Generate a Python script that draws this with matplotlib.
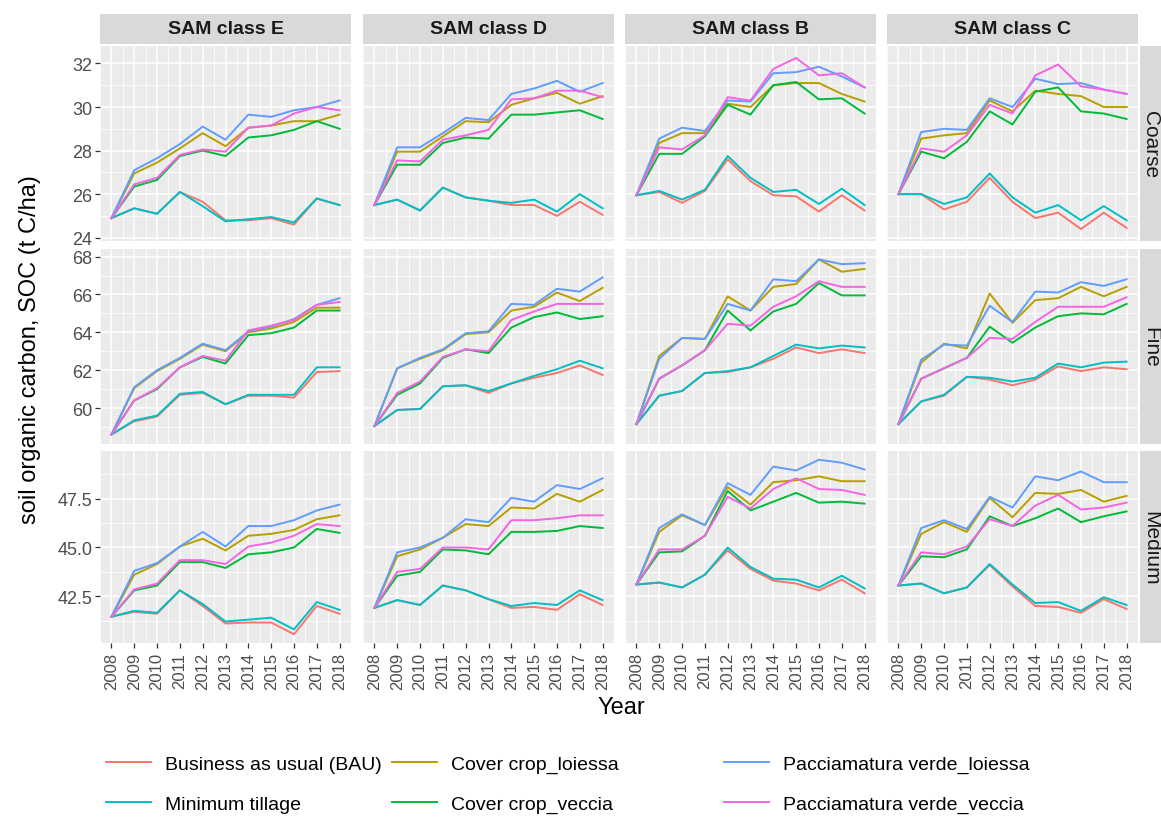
import matplotlib
matplotlib.use("Agg")
import matplotlib.pyplot as plt
from matplotlib.lines import Line2D
import numpy as np

plt.rcParams['font.family'] = ['Liberation Sans', 'DejaVu Sans']

years = list(range(2008, 2019))
classes = ["E", "D", "B", "C"]
textures = ["Coarse", "Fine", "Medium"]

treatments = ["bau", "cc_lo", "cc_ve", "mt", "pv_lo", "pv_ve"]
labels = {
    "bau": "Business as usual (BAU)",
    "cc_lo": "Cover crop_loiessa",
    "cc_ve": "Cover crop_veccia",
    "mt": "Minimum tillage",
    "pv_lo": "Pacciamatura verde_loiessa",
    "pv_ve": "Pacciamatura verde_veccia",
}
colors = {
    "bau": "#F8766D",
    "cc_lo": "#B79F00",
    "cc_ve": "#00BA38",
    "mt": "#00BFC4",
    "pv_lo": "#619CFF",
    "pv_ve": "#F564E3",
}

# SOC (t C/ha) per soil texture and SAM class
coarse_E = {
    "bau":   [24.9, 25.35, 25.1, 26.1, 25.65, 24.8, 24.8, 24.9, 24.6, 25.8, 25.5],
    "mt":    [24.9, 25.35, 25.1, 26.1, 25.45, 24.75, 24.85, 24.95, 24.7, 25.8, 25.5],
    "cc_lo": [24.9, 26.95, 27.45, 28.1, 28.8, 28.2, 29.05, 29.15, 29.35, 29.35, 29.65],
    "cc_ve": [24.9, 26.35, 26.65, 27.75, 28.0, 27.75, 28.6, 28.7, 28.95, 29.35, 29.0],
    "pv_lo": [24.9, 27.1, 27.65, 28.3, 29.1, 28.5, 29.65, 29.55, 29.85, 30.0, 30.3],
    "pv_ve": [24.9, 26.45, 26.75, 27.8, 28.05, 27.95, 29.05, 29.15, 29.7, 30.0, 29.85],
}
coarse_D = {
    "bau":   [25.5, 25.75, 25.25, 26.3, 25.85, 25.7, 25.5, 25.5, 25.0, 25.65, 25.05],
    "mt":    [25.5, 25.75, 25.25, 26.3, 25.85, 25.7, 25.6, 25.75, 25.2, 26.0, 25.35],
    "cc_lo": [25.5, 27.95, 27.95, 28.65, 29.35, 29.3, 30.1, 30.4, 30.65, 30.15, 30.5],
    "cc_ve": [25.5, 27.35, 27.35, 28.35, 28.6, 28.55, 29.65, 29.65, 29.75, 29.85, 29.45],
    "pv_lo": [25.5, 28.15, 28.15, 28.8, 29.5, 29.4, 30.6, 30.85, 31.2, 30.7, 31.1],
    "pv_ve": [25.5, 27.55, 27.5, 28.5, 28.7, 28.95, 30.35, 30.4, 30.75, 30.75, 30.45],
}
coarse_B = {
    "bau":   [25.95, 26.1, 25.6, 26.15, 27.6, 26.6, 25.95, 25.9, 25.2, 25.95, 25.25],
    "mt":    [25.95, 26.15, 25.75, 26.2, 27.75, 26.75, 26.1, 26.2, 25.55, 26.25, 25.5],
    "cc_lo": [25.95, 28.35, 28.8, 28.8, 30.15, 30.0, 31.0, 31.1, 31.1, 30.6, 30.25],
    "cc_ve": [25.95, 27.85, 27.85, 28.65, 30.1, 29.65, 31.0, 31.15, 30.35, 30.4, 29.7],
    "pv_lo": [25.95, 28.55, 29.05, 28.9, 30.3, 30.25, 31.55, 31.6, 31.85, 31.4, 30.9],
    "pv_ve": [25.95, 28.15, 28.05, 28.7, 30.45, 30.3, 31.75, 32.25, 31.45, 31.55, 30.9],
}
coarse_C = {
    "bau":   [26.0, 26.0, 25.3, 25.65, 26.75, 25.65, 24.9, 25.15, 24.4, 25.15, 24.45],
    "mt":    [26.0, 26.0, 25.55, 25.85, 26.95, 25.85, 25.15, 25.5, 24.8, 25.45, 24.8],
    "cc_lo": [26.0, 28.55, 28.7, 28.8, 30.3, 29.8, 30.75, 30.6, 30.5, 30.0, 30.0],
    "cc_ve": [26.0, 27.95, 27.65, 28.4, 29.8, 29.2, 30.7, 30.9, 29.8, 29.7, 29.45],
    "pv_lo": [26.0, 28.85, 29.0, 28.95, 30.4, 30.0, 31.3, 31.05, 31.1, 30.8, 30.6],
    "pv_ve": [26.0, 28.1, 27.95, 28.7, 30.1, 29.7, 31.45, 31.95, 30.95, 30.8, 30.6],
}

fine_E = {
    "bau":   [58.6, 59.3, 59.55, 60.7, 60.8, 60.2, 60.65, 60.65, 60.55, 61.9, 61.95],
    "mt":    [58.6, 59.35, 59.6, 60.75, 60.85, 60.2, 60.7, 60.7, 60.7, 62.15, 62.15],
    "cc_lo": [58.6, 61.05, 61.95, 62.6, 63.35, 63.0, 64.0, 64.2, 64.55, 65.3, 65.3],
    "cc_ve": [58.6, 60.4, 61.0, 62.15, 62.7, 62.35, 63.85, 63.95, 64.25, 65.15, 65.15],
    "pv_lo": [58.6, 61.1, 62.0, 62.65, 63.4, 63.05, 64.05, 64.3, 64.7, 65.45, 65.8],
    "pv_ve": [58.6, 60.4, 61.05, 62.15, 62.75, 62.5, 64.1, 64.35, 64.65, 65.45, 65.6],
}
fine_D = {
    "bau":   [59.05, 59.9, 59.95, 61.15, 61.2, 60.8, 61.3, 61.6, 61.85, 62.25, 61.75],
    "mt":    [59.05, 59.9, 59.95, 61.15, 61.2, 60.9, 61.3, 61.7, 62.05, 62.5, 62.1],
    "cc_lo": [59.05, 62.1, 62.6, 63.05, 63.9, 64.0, 65.15, 65.35, 66.1, 65.65, 66.35],
    "cc_ve": [59.05, 60.7, 61.3, 62.65, 63.1, 62.9, 64.25, 64.8, 65.05, 64.7, 64.85],
    "pv_lo": [59.05, 62.1, 62.65, 63.1, 63.95, 64.05, 65.5, 65.45, 66.3, 66.15, 66.9],
    "pv_ve": [59.05, 60.8, 61.4, 62.7, 63.1, 63.0, 64.65, 65.1, 65.5, 65.5, 65.5],
}
fine_B = {
    "bau":   [59.15, 60.65, 60.9, 61.85, 61.9, 62.15, 62.6, 63.2, 62.9, 63.1, 62.9],
    "mt":    [59.15, 60.65, 60.9, 61.85, 61.95, 62.15, 62.75, 63.35, 63.15, 63.3, 63.2],
    "cc_lo": [59.15, 62.75, 63.7, 63.65, 65.9, 65.15, 66.4, 66.55, 67.85, 67.2, 67.35],
    "cc_ve": [59.15, 61.55, 62.25, 63.05, 65.15, 64.1, 65.1, 65.5, 66.6, 65.95, 65.95],
    "pv_lo": [59.15, 62.6, 63.7, 63.65, 65.5, 65.15, 66.8, 66.7, 67.85, 67.6, 67.65],
    "pv_ve": [59.15, 61.55, 62.25, 63.05, 64.45, 64.35, 65.35, 65.9, 66.7, 66.4, 66.4],
}
fine_C = {
    "bau":   [59.15, 60.35, 60.65, 61.65, 61.5, 61.2, 61.5, 62.2, 61.95, 62.15, 62.05],
    "mt":    [59.15, 60.35, 60.7, 61.65, 61.6, 61.4, 61.6, 62.35, 62.15, 62.4, 62.45],
    "cc_lo": [59.15, 62.4, 63.4, 63.15, 66.05, 64.5, 65.7, 65.8, 66.4, 65.9, 66.4],
    "cc_ve": [59.15, 61.55, 62.1, 62.65, 64.3, 63.45, 64.25, 64.85, 65.0, 64.95, 65.5],
    "pv_lo": [59.15, 62.55, 63.35, 63.3, 65.4, 64.55, 66.15, 66.1, 66.65, 66.45, 66.8],
    "pv_ve": [59.15, 61.55, 62.1, 62.65, 63.7, 63.65, 64.55, 65.35, 65.35, 65.35, 65.85],
}

medium_E = {
    "bau":   [41.45, 41.7, 41.6, 42.8, 42.0, 41.1, 41.15, 41.15, 40.55, 42.0, 41.6],
    "mt":    [41.45, 41.75, 41.65, 42.8, 42.1, 41.2, 41.3, 41.4, 40.8, 42.2, 41.8],
    "cc_lo": [41.45, 43.6, 44.15, 45.05, 45.45, 44.85, 45.6, 45.7, 45.9, 46.45, 46.65],
    "cc_ve": [41.45, 42.8, 43.05, 44.25, 44.25, 43.95, 44.65, 44.75, 45.0, 45.95, 45.75],
    "pv_lo": [41.45, 43.8, 44.2, 45.05, 45.8, 45.05, 46.1, 46.1, 46.4, 46.9, 47.2],
    "pv_ve": [41.45, 42.85, 43.15, 44.35, 44.35, 44.15, 45.05, 45.25, 45.6, 46.2, 46.1],
}
medium_D = {
    "bau":   [41.9, 42.3, 42.05, 43.05, 42.8, 42.35, 41.9, 41.95, 41.8, 42.6, 42.05],
    "mt":    [41.9, 42.3, 42.05, 43.05, 42.8, 42.35, 42.0, 42.15, 42.05, 42.8, 42.3],
    "cc_lo": [41.9, 44.55, 44.9, 45.5, 46.2, 46.1, 47.05, 47.0, 47.75, 47.35, 47.95],
    "cc_ve": [41.9, 43.55, 43.75, 44.9, 44.85, 44.65, 45.8, 45.8, 45.85, 46.1, 46.0],
    "pv_lo": [41.9, 44.75, 45.0, 45.5, 46.45, 46.3, 47.55, 47.35, 48.2, 48.0, 48.55],
    "pv_ve": [41.9, 43.75, 43.9, 45.0, 45.0, 44.9, 46.4, 46.4, 46.5, 46.65, 46.65],
}
medium_B = {
    "bau":   [43.1, 43.2, 42.95, 43.6, 44.85, 43.9, 43.3, 43.15, 42.8, 43.35, 42.65],
    "mt":    [43.1, 43.2, 42.95, 43.6, 45.0, 44.0, 43.4, 43.35, 42.95, 43.55, 42.9],
    "cc_lo": [43.1, 45.8, 46.65, 46.15, 48.1, 47.2, 48.35, 48.45, 48.65, 48.4, 48.4],
    "cc_ve": [43.1, 44.75, 44.8, 45.6, 47.9, 46.9, 47.35, 47.8, 47.3, 47.35, 47.25],
    "pv_lo": [43.1, 46.0, 46.7, 46.15, 48.3, 47.7, 49.15, 48.95, 49.5, 49.35, 49.0],
    "pv_ve": [43.1, 44.9, 44.9, 45.6, 47.6, 47.0, 48.0, 48.55, 48.0, 47.95, 47.7],
}
medium_C = {
    "bau":   [43.05, 43.15, 42.65, 42.95, 44.1, 43.0, 42.0, 41.95, 41.65, 42.35, 41.85],
    "mt":    [43.05, 43.15, 42.65, 42.95, 44.15, 43.1, 42.15, 42.2, 41.75, 42.45, 42.05],
    "cc_lo": [43.05, 45.7, 46.3, 45.8, 47.55, 46.55, 47.8, 47.75, 47.95, 47.35, 47.65],
    "cc_ve": [43.05, 44.55, 44.5, 44.9, 46.6, 46.1, 46.5, 47.0, 46.3, 46.6, 46.85],
    "pv_lo": [43.05, 46.0, 46.4, 45.95, 47.6, 47.05, 48.65, 48.45, 48.9, 48.35, 48.35],
    "pv_ve": [43.05, 44.75, 44.65, 45.05, 46.45, 46.1, 47.15, 47.7, 46.95, 47.05, 47.3],
}

panels = [
    [coarse_E, coarse_D, coarse_B, coarse_C],
    [fine_E, fine_D, fine_B, fine_C],
    [medium_E, medium_D, medium_B, medium_C],
]

y_ticks = [[24, 26, 28, 30, 32], [60, 62, 64, 66, 68], [42.5, 45.0, 47.5]]
y_ticklabels = [["24", "26", "28", "30", "32"], ["60", "62", "64", "66", "68"],
                ["42.5", "45.0", "47.5"]]
y_minor = [[25, 27, 29, 31], [59, 61, 63, 65, 67], [41.25, 43.75, 46.25, 48.75]]
y_lims = [(23.85, 32.8), (58.1, 68.4), (40.1, 49.95)]

W, H = 1161, 820
fig = plt.figure(figsize=(W / 100, H / 100), dpi=100)

col_left = [100, 363, 625, 887]
col_w = 251
row_top = [47, 250, 452]
row_h = [195, 195, 192]
strip_h = 30
rstrip_w = 22


def fbox(x, y, w, h):
    return [x / W, 1 - (y + h) / H, w / W, h / H]


for r in range(3):
    for c in range(4):
        ax = fig.add_axes(fbox(col_left[c], row_top[r], col_w, row_h[r]))
        ax.set_facecolor("#EBEBEB")
        for s in ax.spines.values():
            s.set_visible(False)
        ax.set_xlim(2007.5, 2018.5)
        ax.set_ylim(*y_lims[r])
        ax.set_xticks(years)
        ax.set_xticks(np.arange(2007.5, 2018.6, 1.0), minor=True)
        ax.set_yticks(y_ticks[r])
        ax.set_yticks(y_minor[r], minor=True)
        ax.grid(which="major", color="white", linewidth=1.1)
        ax.grid(which="minor", color="white", linewidth=0.55)
        ax.set_axisbelow(True)
        ax.tick_params(which="minor", length=0)
        ax.tick_params(which="major", length=3.5, color="#333333", width=0.9,
                       labelsize=13, labelcolor="#4D4D4D", pad=2)
        ax.tick_params(axis="x", labelsize=12, pad=3)

        data = panels[r][c]
        for t in treatments:
            ax.plot(years, data[t], color=colors[t], linewidth=1.4)

        if c == 0:
            ax.set_yticklabels(y_ticklabels[r])
        else:
            ax.tick_params(axis="y", which="both", left=False, labelleft=False)
        if r == 2:
            ax.set_xticklabels([str(y) for y in years], rotation=90)
        else:
            ax.tick_params(axis="x", which="both", bottom=False, labelbottom=False)

        if r == 0:
            sax = fig.add_axes(fbox(col_left[c], row_top[0] - strip_h - 2, col_w, strip_h))
            sax.set_facecolor("#D9D9D9")
            sax.set_xticks([])
            sax.set_yticks([])
            for s in sax.spines.values():
                s.set_visible(False)
            sax.text(0.5, 0.5, "SAM class " + classes[c], ha="center", va="center",
                     fontsize=14, fontweight="bold", color="#1A1A1A",
                     transform=sax.transAxes)
        if c == 3:
            sax = fig.add_axes(fbox(col_left[3] + col_w + 2, row_top[r], rstrip_w, row_h[r]))
            sax.set_facecolor("#D9D9D9")
            sax.set_xticks([])
            sax.set_yticks([])
            for s in sax.spines.values():
                s.set_visible(False)
            sax.text(0.5, 0.5, textures[r], ha="center", va="center", rotation=-90,
                     fontsize=15, color="#1A1A1A", transform=sax.transAxes)

fig.text(30 / W, 1 - 350 / H, "soil organic carbon, SOC (t C/ha)", rotation=90,
         ha="center", va="center", fontsize=17)
fig.text(621 / W, 1 - 708 / H, "Year", ha="center", va="center", fontsize=17)

# legend in three columns of two keys
legend_cols = [(["bau", "mt"], 106), (["cc_lo", "cc_ve"], 392), (["pv_lo", "pv_ve"], 724)]
for keys, x0 in legend_cols:
    handles = [Line2D([], [], color=colors[k], linewidth=1.4) for k in keys]
    fig.legend(handles, [labels[k] for k in keys], loc="center left",
               bbox_to_anchor=(x0 / W, 1 - 785 / H), frameon=False, fontsize=14,
               handlelength=2.3, handletextpad=0.75, labelspacing=1.15,
               borderpad=0, borderaxespad=0)

fig.savefig("out.png", dpi=100)
